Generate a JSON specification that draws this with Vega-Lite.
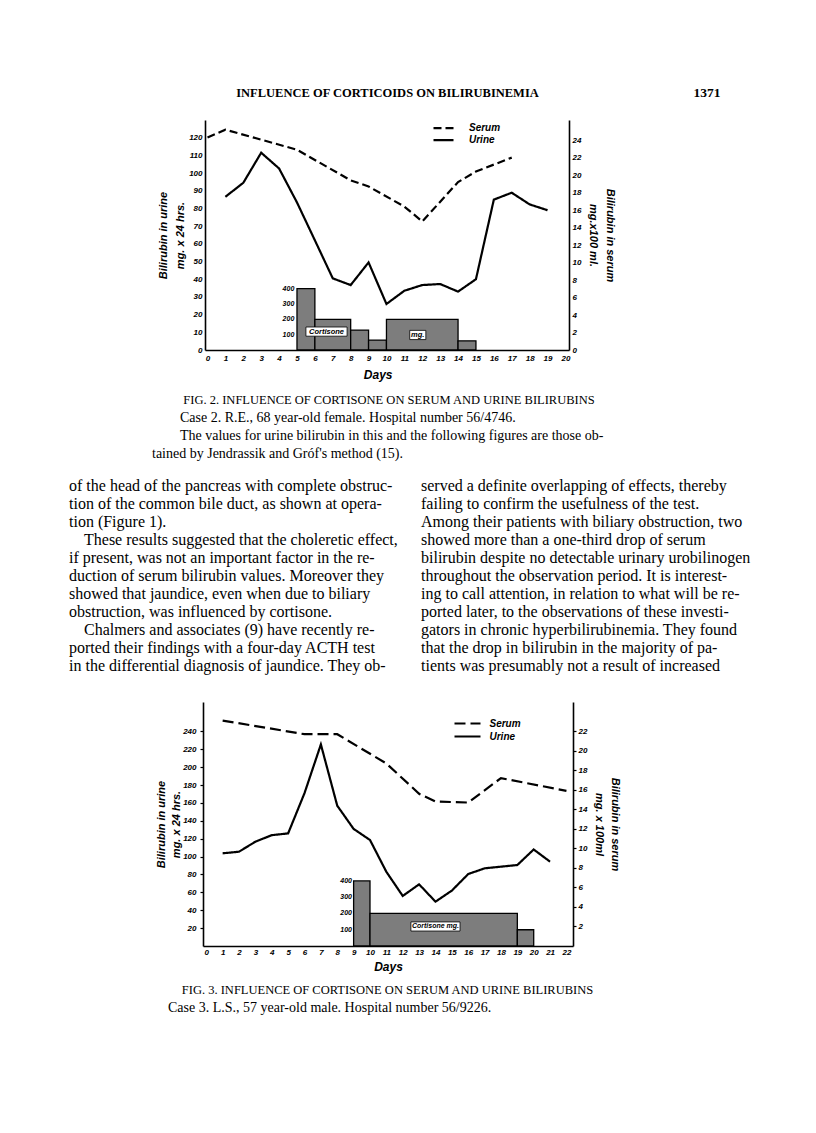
{
  "$schema": "https://vega.github.io/schema/vega-lite/v6.json",
  "background": "white",
  "padding": 0,
  "spacing": 0,
  "bounds": "flush",
  "config": {
    "view": {"stroke": null},
    "axis": {"grid": false, "labelOverlap": false, "labelFlush": false, "domainColor": "black", "domainWidth": 1.6, "tickColor": "black", "tickWidth": 1.2, "labelColor": "black", "titleColor": "black", "labelFont": "Liberation Sans", "labelFontStyle": "italic", "labelFontWeight": "bold", "labelFontSize": 8, "titleFont": "Liberation Sans", "titleFontStyle": "italic", "titleFontWeight": "bold", "titleFontSize": 11},
    "text": {"color": "black"}
  },
  "resolve": {"scale": {"x": "independent", "y": "independent", "strokeDash": "independent"}, "axis": {"x": "independent", "y": "independent"}, "legend": {"strokeDash": "independent"}},
  "vconcat": [
    {
      "width": 816, "height": 120,
      "data": {"values": [
        {"col": "title", "line": 1, "text": "INFLUENCE OF CORTICOIDS ON BILIRUBINEMIA"},
        {"col": "folio", "line": 1, "text": "1371"}
      ]},
      "encoding": {
        "x": {"field": "col", "type": "nominal", "scale": {"type": "point", "domain": ["title", "folio"], "range": [387.5, 707], "padding": 0}, "axis": null},
        "y": {"field": "line", "type": "quantitative", "scale": {"domain": [1, 2], "range": [93, 111]}, "axis": null},
        "text": {"field": "text", "type": "nominal"}
      },
      "layer": [
        {"transform": [{"filter": "datum.col === 'title'"}], "mark": {"type": "text", "font": "Liberation Serif", "fontWeight": "bold", "fontSize": 12.5, "align": "center", "baseline": "middle"}},
        {"transform": [{"filter": "datum.col === 'folio'"}], "mark": {"type": "text", "font": "Liberation Serif", "fontWeight": "bold", "fontSize": 13.5, "align": "center", "baseline": "middle"}}
      ]
    },
    {
      "width": 816, "height": 230,
      "resolve": {"scale": {"y": "independent"}},
      "layer": [
        {
          "layer": [
            {
              "data": {"values": [
                {"start": 5, "end": 6, "dose": 400},
                {"start": 6, "end": 8, "dose": 200},
                {"start": 8, "end": 9, "dose": 130},
                {"start": 9, "end": 10, "dose": 65},
                {"start": 10, "end": 14, "dose": 200},
                {"start": 14, "end": 15, "dose": 60}
              ]},
              "mark": {"type": "rect", "fill": "#7d7d7d", "stroke": "black", "strokeWidth": 1.3},
              "encoding": {
                "x": {"field": "start", "type": "quantitative", "scale": {"domain": [-0.14, 20.2], "range": [205, 569], "nice": false, "zero": false}, "axis": {"title": "Days", "values": [0,1,2,3,4,5,6,7,8,9,10,11,12,13,14,15,16,17,18,19,20], "labelOverlap": false, "labelFlush": false, "ticks": false, "labelPadding": 4.5, "titlePadding": 7, "titleFontSize": 12, "titleX": 377.7}},
                "x2": {"field": "end"},
                "y": {"field": "dose", "type": "quantitative", "scale": {"domain": [0, 1500], "nice": false}, "axis": null},
                "y2": {"datum": 0}
              }
            },
            {
              "data": {"values": [{"dose": 100}, {"dose": 200}, {"dose": 300}, {"dose": 400}]},
              "mark": {"type": "text", "align": "right", "baseline": "middle", "font": "Liberation Sans", "fontStyle": "italic", "fontWeight": "bold", "fontSize": 7},
              "encoding": {
                "x": {"datum": 4.85, "type": "quantitative", "scale": {"domain": [-0.14, 20.2], "range": [205, 569], "nice": false, "zero": false}, "axis": {"title": "Days", "values": [0,1,2,3,4,5,6,7,8,9,10,11,12,13,14,15,16,17,18,19,20], "labelOverlap": false, "labelFlush": false, "ticks": false, "labelPadding": 4.5, "titlePadding": 7, "titleFontSize": 12, "titleX": 377.7}},
                "y": {"field": "dose", "type": "quantitative", "scale": {"domain": [0, 1500], "nice": false}, "axis": null},
                "text": {"field": "dose", "type": "quantitative"}
              }
            },
            {
              "data": {"values": [
                {"label": "Cortisone", "from": 5.5, "to": 7.8, "lo": 90, "hi": 150, "mid": 6.65, "dmid": 120},
                {"label": "mg.", "from": 11.3, "to": 12.2, "lo": 68, "hi": 128, "mid": 11.75, "dmid": 98}
              ]},
              "layer": [
                {
                  "mark": {"type": "rect", "fill": "white", "stroke": "black", "strokeWidth": 0.8},
                  "encoding": {
                    "x": {"field": "from", "type": "quantitative", "scale": {"domain": [-0.14, 20.2], "range": [205, 569], "nice": false, "zero": false}, "axis": {"title": "Days", "values": [0,1,2,3,4,5,6,7,8,9,10,11,12,13,14,15,16,17,18,19,20], "labelOverlap": false, "labelFlush": false, "ticks": false, "labelPadding": 4.5, "titlePadding": 7, "titleFontSize": 12, "titleX": 377.7}},
                    "x2": {"field": "to"},
                    "y": {"field": "lo", "type": "quantitative", "scale": {"domain": [0, 1500], "nice": false}, "axis": null},
                    "y2": {"field": "hi"}
                  }
                },
                {
                  "mark": {"type": "text", "align": "center", "baseline": "middle", "font": "Liberation Sans", "fontStyle": "italic", "fontWeight": "bold", "fontSize": 7.5},
                  "encoding": {
                    "x": {"field": "mid", "type": "quantitative", "scale": {"domain": [-0.14, 20.2], "range": [205, 569], "nice": false, "zero": false}, "axis": {"title": "Days", "values": [0,1,2,3,4,5,6,7,8,9,10,11,12,13,14,15,16,17,18,19,20], "labelOverlap": false, "labelFlush": false, "ticks": false, "labelPadding": 4.5, "titlePadding": 7, "titleFontSize": 12, "titleX": 377.7}},
                    "y": {"field": "dmid", "type": "quantitative", "scale": {"domain": [0, 1500], "nice": false}, "axis": null},
                    "text": {"field": "label", "type": "nominal"}
                  }
                }
              ]
            }
          ]
        },
        {
          "data": {"values": [
            {"series": "Urine", "day": 1, "value": 86.6},
            {"series": "Urine", "day": 2, "value": 94.5},
            {"series": "Urine", "day": 3, "value": 111.5},
            {"series": "Urine", "day": 4, "value": 102.6},
            {"series": "Urine", "day": 5, "value": 83.4},
            {"series": "Urine", "day": 6, "value": 62},
            {"series": "Urine", "day": 7, "value": 40.5},
            {"series": "Urine", "day": 8, "value": 36.7},
            {"series": "Urine", "day": 9, "value": 49.5},
            {"series": "Urine", "day": 10, "value": 26},
            {"series": "Urine", "day": 11, "value": 33.5},
            {"series": "Urine", "day": 12, "value": 36.7},
            {"series": "Urine", "day": 13, "value": 37.3},
            {"series": "Urine", "day": 14, "value": 33},
            {"series": "Urine", "day": 15, "value": 40},
            {"series": "Urine", "day": 16, "value": 85},
            {"series": "Urine", "day": 17, "value": 88.9},
            {"series": "Urine", "day": 18, "value": 82.3},
            {"series": "Urine", "day": 19, "value": 79}
          ]},
          "mark": {"type": "line", "color": "black", "strokeWidth": 2.2},
          "encoding": {
            "x": {"field": "day", "type": "quantitative", "scale": {"domain": [-0.14, 20.2], "range": [205, 569], "nice": false, "zero": false}, "axis": {"title": "Days", "values": [0,1,2,3,4,5,6,7,8,9,10,11,12,13,14,15,16,17,18,19,20], "labelOverlap": false, "labelFlush": false, "ticks": false, "labelPadding": 4.5, "titlePadding": 7, "titleFontSize": 12, "titleX": 377.7}},
            "y": {"field": "value", "type": "quantitative", "scale": {"domain": [0, 130], "nice": false}, "axis": {"orient": "left", "offset": -205, "title": ["Bilirubin in urine", "mg. x 24 hrs."], "values": [0,10,20,30,40,50,60,70,80,90,100,110,120], "ticks": false, "labelPadding": 3, "titlePadding": 3, "titleLineHeight": 17}},
            "strokeDash": {"field": "series", "type": "nominal", "scale": {"domain": ["Serum", "Urine"], "range": [[8, 4], [1, 0]]}, "legend": {"orient": "none", "legendX": 437, "legendY": 1.7, "direction": "vertical", "title": null, "padding": 0, "symbolType": "M-2,0H2", "symbolSize": 100, "symbolStrokeWidth": 2.2, "symbolStrokeColor": "black", "labelFont": "Liberation Sans", "labelFontStyle": "italic", "labelFontWeight": "bold", "labelFontSize": 10, "labelColor": "black", "labelOffset": 19, "rowPadding": -1.8}}
          }
        },
        {
          "data": {"values": [
            {"series": "Serum", "day": 0, "value": 24.3},
            {"series": "Serum", "day": 1, "value": 25.2},
            {"series": "Serum", "day": 5, "value": 22.9},
            {"series": "Serum", "day": 8, "value": 19.4},
            {"series": "Serum", "day": 9, "value": 18.7},
            {"series": "Serum", "day": 11, "value": 16.4},
            {"series": "Serum", "day": 12, "value": 14.7},
            {"series": "Serum", "day": 14, "value": 19.2},
            {"series": "Serum", "day": 15, "value": 20.4},
            {"series": "Serum", "day": 16, "value": 21.2},
            {"series": "Serum", "day": 17, "value": 22.0}
          ]},
          "mark": {"type": "line", "color": "black", "strokeWidth": 2.2},
          "encoding": {
            "x": {"field": "day", "type": "quantitative", "scale": {"domain": [-0.14, 20.2], "range": [205, 569], "nice": false, "zero": false}, "axis": {"title": "Days", "values": [0,1,2,3,4,5,6,7,8,9,10,11,12,13,14,15,16,17,18,19,20], "labelOverlap": false, "labelFlush": false, "ticks": false, "labelPadding": 4.5, "titlePadding": 7, "titleFontSize": 12, "titleX": 377.7}},
            "y": {"field": "value", "type": "quantitative", "scale": {"domain": [0, 26.3], "nice": false}, "axis": {"orient": "right", "offset": -247, "title": ["Bilirubin in serum", "mg.x100 ml."], "values": [0,2,4,6,8,10,12,14,16,18,20,22,24], "ticks": false, "labelPadding": 3, "titlePadding": 7, "titleLineHeight": 17}},
            "strokeDash": {"field": "series", "type": "nominal", "scale": {"domain": ["Serum", "Urine"], "range": [[8, 4], [1, 0]]}, "legend": {"orient": "none", "legendX": 437, "legendY": 1.7, "direction": "vertical", "title": null, "padding": 0, "symbolType": "M-2,0H2", "symbolSize": 100, "symbolStrokeWidth": 2.2, "symbolStrokeColor": "black", "labelFont": "Liberation Sans", "labelFontStyle": "italic", "labelFontWeight": "bold", "labelFontSize": 10, "labelColor": "black", "labelOffset": 19, "rowPadding": -1.8}}
          }
        }
      ]
    },
    {
      "width": 816, "height": 120,
      "data": {"values": [
        {"col": "c", "line": 1, "text": "FIG. 2.  INFLUENCE OF CORTISONE ON SERUM AND URINE BILIRUBINS"},
        {"col": "first", "line": 2, "text": "Case 2.  R.E., 68 year-old female.  Hospital number 56/4746."},
        {"col": "first", "line": 3, "text": "The values for urine bilirubin in this and the following figures are those ob-"},
        {"col": "cont", "line": 4, "text": "tained by Jendrassik and Gróf's method (15)."}
      ]},
      "resolve": {"scale": {"x": "independent"}},
      "layer": [
        {
          "transform": [{"filter": "datum.col === 'c'"}],
          "mark": {"type": "text", "font": "Liberation Serif", "fontSize": 12.5, "align": "center", "baseline": "middle"},
          "encoding": {
            "x": {"field": "col", "type": "nominal", "scale": {"type": "point", "domain": ["c"], "range": [389, 389], "padding": 0}, "axis": null},
            "y": {"field": "line", "type": "quantitative", "scale": {"domain": [1, 4], "range": [50, 104]}, "axis": null},
            "text": {"field": "text", "type": "nominal"}
          }
        },
        {
          "transform": [{"filter": "datum.col !== 'c'"}],
          "mark": {"type": "text", "font": "Liberation Serif", "fontSize": 14, "align": "left", "baseline": "middle"},
          "encoding": {
            "x": {"field": "col", "type": "nominal", "scale": {"type": "point", "domain": ["cont", "first"], "range": [152, 180], "padding": 0}, "axis": null},
            "y": {"field": "line", "type": "quantitative", "scale": {"domain": [1, 4], "range": [50, 104]}, "axis": null},
            "text": {"field": "text", "type": "nominal"}
          }
        }
      ]
    },
    {
      "width": 816, "height": 232,
      "data": {"values": [
        {"col": "L", "line": 1, "text": "of the head of the pancreas with complete obstruc-"},
        {"col": "L", "line": 2, "text": "tion of the common bile duct, as shown at opera-"},
        {"col": "L", "line": 3, "text": "tion (Figure 1)."},
        {"col": "Li", "line": 4, "text": "These results suggested that the choleretic effect,"},
        {"col": "L", "line": 5, "text": "if present, was not an important factor in the re-"},
        {"col": "L", "line": 6, "text": "duction of serum bilirubin values.  Moreover they"},
        {"col": "L", "line": 7, "text": "showed that jaundice, even when due to biliary"},
        {"col": "L", "line": 8, "text": "obstruction, was influenced by cortisone."},
        {"col": "Li", "line": 9, "text": "Chalmers and associates (9) have recently re-"},
        {"col": "L", "line": 10, "text": "ported their findings with a four-day ACTH test"},
        {"col": "L", "line": 11, "text": "in the differential diagnosis of jaundice.  They ob-"},
        {"col": "R", "line": 1, "text": "served a definite overlapping of effects, thereby"},
        {"col": "R", "line": 2, "text": "failing to confirm the usefulness of the test."},
        {"col": "R", "line": 3, "text": "Among their patients with biliary obstruction, two"},
        {"col": "R", "line": 4, "text": "showed more than a one-third drop of serum"},
        {"col": "R", "line": 5, "text": "bilirubin despite no detectable urinary urobilinogen"},
        {"col": "R", "line": 6, "text": "throughout the observation period.  It is interest-"},
        {"col": "R", "line": 7, "text": "ing to call attention, in relation to what will be re-"},
        {"col": "R", "line": 8, "text": "ported later, to the observations of these investi-"},
        {"col": "R", "line": 9, "text": "gators in chronic hyperbilirubinemia.  They found"},
        {"col": "R", "line": 10, "text": "that the drop in bilirubin in the majority of pa-"},
        {"col": "R", "line": 11, "text": "tients was presumably not a result of increased"}
      ]},
      "resolve": {"scale": {"x": "independent"}},
      "layer": [
        {
          "transform": [{"filter": "datum.col !== 'Li'"}],
          "mark": {"type": "text", "font": "Liberation Serif", "fontSize": 16, "align": "left", "baseline": "middle"},
          "encoding": {
            "x": {"field": "col", "type": "nominal", "scale": {"type": "point", "domain": ["L", "R"], "range": [69, 421], "padding": 0}, "axis": null},
            "y": {"field": "line", "type": "quantitative", "scale": {"domain": [1, 11], "range": [16, 196]}, "axis": null},
            "text": {"field": "text", "type": "nominal"}
          }
        },
        {
          "transform": [{"filter": "datum.col === 'Li'"}],
          "mark": {"type": "text", "font": "Liberation Serif", "fontSize": 16, "align": "left", "baseline": "middle"},
          "encoding": {
            "x": {"field": "col", "type": "nominal", "scale": {"type": "point", "domain": ["Li"], "range": [84, 84], "padding": 0}, "axis": null},
            "y": {"field": "line", "type": "quantitative", "scale": {"domain": [1, 11], "range": [16, 196]}, "axis": null},
            "text": {"field": "text", "type": "nominal"}
          }
        }
      ]
    },
    {
      "width": 816, "height": 244,
      "resolve": {"scale": {"y": "independent"}},
      "layer": [
        {
          "layer": [
            {
              "data": {"values": [
                {"start": 9, "end": 10, "dose": 400},
                {"start": 10, "end": 19, "dose": 200},
                {"start": 19, "end": 20, "dose": 100}
              ]},
              "mark": {"type": "rect", "fill": "#7d7d7d", "stroke": "black", "strokeWidth": 1.3},
              "encoding": {
                "x": {"field": "start", "type": "quantitative", "scale": {"domain": [-0.2, 22.4], "range": [203, 573], "nice": false, "zero": false}, "axis": {"title": "Days", "values": [0,1,2,3,4,5,6,7,8,9,10,11,12,13,14,15,16,17,18,19,20,21,22], "labelOverlap": false, "labelFlush": false, "ticks": false, "labelPadding": 2.5, "titlePadding": 5, "titleFontSize": 12}},
                "x2": {"field": "end"},
                "y": {"field": "dose", "type": "quantitative", "scale": {"domain": [0, 1500], "nice": false}, "axis": null},
                "y2": {"datum": 0}
              }
            },
            {
              "data": {"values": [{"dose": 100}, {"dose": 200}, {"dose": 300}, {"dose": 400}]},
              "mark": {"type": "text", "align": "right", "baseline": "middle", "font": "Liberation Sans", "fontStyle": "italic", "fontWeight": "bold", "fontSize": 7},
              "encoding": {
                "x": {"datum": 8.9, "type": "quantitative", "scale": {"domain": [-0.2, 22.4], "range": [203, 573], "nice": false, "zero": false}, "axis": {"title": "Days", "values": [0,1,2,3,4,5,6,7,8,9,10,11,12,13,14,15,16,17,18,19,20,21,22], "labelOverlap": false, "labelFlush": false, "ticks": false, "labelPadding": 2.5, "titlePadding": 5, "titleFontSize": 12}},
                "y": {"field": "dose", "type": "quantitative", "scale": {"domain": [0, 1500], "nice": false}, "axis": null},
                "text": {"field": "dose", "type": "quantitative"}
              }
            },
            {
              "data": {"values": [
                {"label": "Cortisone mg.", "from": 12.5, "to": 15.5, "lo": 92, "hi": 148, "mid": 14, "dmid": 120}
              ]},
              "layer": [
                {
                  "mark": {"type": "rect", "fill": "white", "stroke": "black", "strokeWidth": 0.8},
                  "encoding": {
                    "x": {"field": "from", "type": "quantitative", "scale": {"domain": [-0.2, 22.4], "range": [203, 573], "nice": false, "zero": false}, "axis": {"title": "Days", "values": [0,1,2,3,4,5,6,7,8,9,10,11,12,13,14,15,16,17,18,19,20,21,22], "labelOverlap": false, "labelFlush": false, "ticks": false, "labelPadding": 2.5, "titlePadding": 5, "titleFontSize": 12}},
                    "x2": {"field": "to"},
                    "y": {"field": "lo", "type": "quantitative", "scale": {"domain": [0, 1500], "nice": false}, "axis": null},
                    "y2": {"field": "hi"}
                  }
                },
                {
                  "mark": {"type": "text", "align": "center", "baseline": "middle", "font": "Liberation Sans", "fontStyle": "italic", "fontWeight": "bold", "fontSize": 7},
                  "encoding": {
                    "x": {"field": "mid", "type": "quantitative", "scale": {"domain": [-0.2, 22.4], "range": [203, 573], "nice": false, "zero": false}, "axis": {"title": "Days", "values": [0,1,2,3,4,5,6,7,8,9,10,11,12,13,14,15,16,17,18,19,20,21,22], "labelOverlap": false, "labelFlush": false, "ticks": false, "labelPadding": 2.5, "titlePadding": 5, "titleFontSize": 12}},
                    "y": {"field": "dmid", "type": "quantitative", "scale": {"domain": [0, 1500], "nice": false}, "axis": null},
                    "text": {"field": "label", "type": "nominal"}
                  }
                }
              ]
            }
          ]
        },
        {
          "data": {"values": [
            {"series": "Urine", "day": 1, "value": 103.7},
            {"series": "Urine", "day": 2, "value": 105.5},
            {"series": "Urine", "day": 3, "value": 116.7},
            {"series": "Urine", "day": 4, "value": 124},
            {"series": "Urine", "day": 5, "value": 126},
            {"series": "Urine", "day": 6, "value": 171},
            {"series": "Urine", "day": 7, "value": 225.5},
            {"series": "Urine", "day": 8, "value": 157},
            {"series": "Urine", "day": 9, "value": 131},
            {"series": "Urine", "day": 10, "value": 118.6},
            {"series": "Urine", "day": 11, "value": 83},
            {"series": "Urine", "day": 12, "value": 56},
            {"series": "Urine", "day": 13, "value": 69},
            {"series": "Urine", "day": 14, "value": 49.6},
            {"series": "Urine", "day": 15, "value": 62},
            {"series": "Urine", "day": 16, "value": 80.5},
            {"series": "Urine", "day": 17, "value": 86.9},
            {"series": "Urine", "day": 19, "value": 90.6},
            {"series": "Urine", "day": 20, "value": 108},
            {"series": "Urine", "day": 21, "value": 94.3}
          ]},
          "mark": {"type": "line", "color": "black", "strokeWidth": 2.2},
          "encoding": {
            "x": {"field": "day", "type": "quantitative", "scale": {"domain": [-0.2, 22.4], "range": [203, 573], "nice": false, "zero": false}, "axis": {"title": "Days", "values": [0,1,2,3,4,5,6,7,8,9,10,11,12,13,14,15,16,17,18,19,20,21,22], "labelOverlap": false, "labelFlush": false, "ticks": false, "labelPadding": 2.5, "titlePadding": 5, "titleFontSize": 12}},
            "y": {"field": "value", "type": "quantitative", "scale": {"domain": [0, 273], "nice": false}, "axis": {"orient": "left", "offset": -203, "title": ["Bilirubin in urine", "mg. x 24 hrs."], "values": [20,40,60,80,100,120,140,160,180,200,220,240], "tickSize": 3, "labelPadding": 4, "titlePadding": 1, "titleLineHeight": 15}},
            "strokeDash": {"field": "series", "type": "nominal", "scale": {"domain": ["Serum", "Urine"], "range": [[11, 5], [1, 0]]}, "legend": {"orient": "none", "legendX": 459.5, "legendY": 13.5, "direction": "vertical", "title": null, "padding": 0, "symbolType": "M-2,0H2", "symbolSize": 169, "symbolStrokeWidth": 2.2, "symbolStrokeColor": "black", "labelFont": "Liberation Sans", "labelFontStyle": "italic", "labelFontWeight": "bold", "labelFontSize": 10, "labelColor": "black", "labelOffset": 14, "rowPadding": -2}}
          }
        },
        {
          "data": {"values": [
            {"series": "Serum", "day": 1, "value": 23.1},
            {"series": "Serum", "day": 6, "value": 21.7},
            {"series": "Serum", "day": 7, "value": 21.7},
            {"series": "Serum", "day": 8, "value": 21.7},
            {"series": "Serum", "day": 11, "value": 18.7},
            {"series": "Serum", "day": 13, "value": 15.6},
            {"series": "Serum", "day": 14, "value": 14.8},
            {"series": "Serum", "day": 16, "value": 14.7},
            {"series": "Serum", "day": 18, "value": 17.2},
            {"series": "Serum", "day": 22, "value": 15.9}
          ]},
          "mark": {"type": "line", "color": "black", "strokeWidth": 2.2},
          "encoding": {
            "x": {"field": "day", "type": "quantitative", "scale": {"domain": [-0.2, 22.4], "range": [203, 573], "nice": false, "zero": false}, "axis": {"title": "Days", "values": [0,1,2,3,4,5,6,7,8,9,10,11,12,13,14,15,16,17,18,19,20,21,22], "labelOverlap": false, "labelFlush": false, "ticks": false, "labelPadding": 2.5, "titlePadding": 5, "titleFontSize": 12}},
            "y": {"field": "value", "type": "quantitative", "scale": {"domain": [0, 25], "nice": false}, "axis": {"orient": "right", "offset": -243, "title": ["Bilirubin in serum", "mg. x 100ml"], "values": [2,4,6,8,10,12,14,16,18,20,22], "tickSize": 3, "labelPadding": 2, "titlePadding": 7, "titleLineHeight": 16}},
            "strokeDash": {"field": "series", "type": "nominal", "scale": {"domain": ["Serum", "Urine"], "range": [[11, 5], [1, 0]]}, "legend": {"orient": "none", "legendX": 459.5, "legendY": 13.5, "direction": "vertical", "title": null, "padding": 0, "symbolType": "M-2,0H2", "symbolSize": 169, "symbolStrokeWidth": 2.2, "symbolStrokeColor": "black", "labelFont": "Liberation Sans", "labelFontStyle": "italic", "labelFontWeight": "bold", "labelFontSize": 10, "labelColor": "black", "labelOffset": 14, "rowPadding": -2}}
          }
        }
      ]
    },
    {
      "width": 816, "height": 187,
      "data": {"values": [
        {"col": "c", "line": 1, "text": "FIG. 3.  INFLUENCE OF CORTISONE ON SERUM AND URINE BILIRUBINS"},
        {"col": "first", "line": 2, "text": "Case 3.  L.S., 57 year-old male.  Hospital number 56/9226."}
      ]},
      "resolve": {"scale": {"x": "independent"}},
      "layer": [
        {
          "transform": [{"filter": "datum.col === 'c'"}],
          "mark": {"type": "text", "font": "Liberation Serif", "fontSize": 12.5, "align": "center", "baseline": "middle"},
          "encoding": {
            "x": {"field": "col", "type": "nominal", "scale": {"type": "point", "domain": ["c"], "range": [387.5, 387.5], "padding": 0}, "axis": null},
            "y": {"field": "line", "type": "quantitative", "scale": {"domain": [1, 2], "range": [44, 62]}, "axis": null},
            "text": {"field": "text", "type": "nominal"}
          }
        },
        {
          "transform": [{"filter": "datum.col !== 'c'"}],
          "mark": {"type": "text", "font": "Liberation Serif", "fontSize": 14, "align": "left", "baseline": "middle"},
          "encoding": {
            "x": {"field": "col", "type": "nominal", "scale": {"type": "point", "domain": ["first"], "range": [168, 168], "padding": 0}, "axis": null},
            "y": {"field": "line", "type": "quantitative", "scale": {"domain": [1, 2], "range": [44, 62]}, "axis": null},
            "text": {"field": "text", "type": "nominal"}
          }
        }
      ]
    }
  ]
}
